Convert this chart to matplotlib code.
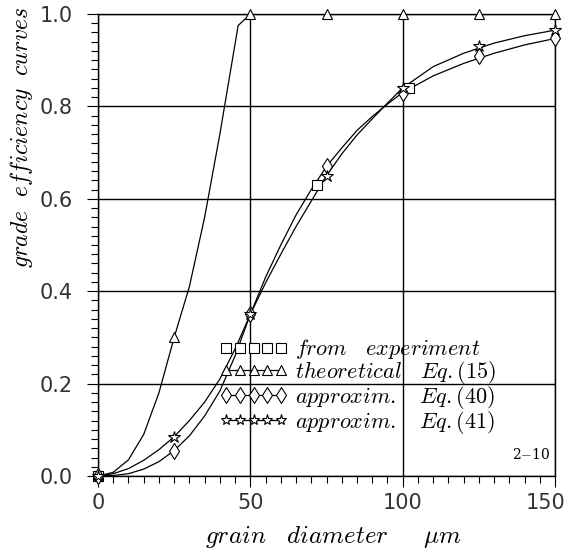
"""Grade efficiency curves: experiment vs theory vs two approximations."""

import matplotlib
matplotlib.use("Agg")
import matplotlib.pyplot as plt
import matplotlib.transforms as mtransforms
from matplotlib.lines import Line2D
from matplotlib.ticker import MultipleLocator, FormatStrFormatter

plt.rcParams["mathtext.fontset"] = "cm"

# ---- marker data (grain diameter in um, grade efficiency) ----
exp_x = [0, 72, 102]
exp_y = [0.0, 0.63, 0.84]

theo_x = [0, 25, 50, 75, 100, 125, 150]
theo_y = [0.0, 0.30, 1.0, 1.0, 1.0, 1.0, 1.0]

eq40_x = [0, 25, 50, 75, 100, 125, 150]
eq40_y = [0.0, 0.055, 0.35, 0.67, 0.83, 0.91, 0.947]

eq41_x = [0, 25, 50, 75, 100, 125, 150]
eq41_y = [0.0, 0.085, 0.35, 0.65, 0.84, 0.93, 0.965]

# ---- curves ----
theo_curve_x = [0, 5, 10, 15, 20, 25, 30, 35, 40, 46, 50, 150]
theo_curve_y = [0.0, 0.008, 0.035, 0.09, 0.18, 0.30, 0.41, 0.56, 0.74, 0.975, 1.0, 1.0]

approx_curve_x = [0, 5, 10, 15, 20, 25, 30, 35, 40, 45, 50, 55, 60, 65, 70,
                  75, 80, 85, 90, 95, 100, 110, 120, 130, 140, 150]
eq40_curve_y = [0.0, 0.001, 0.005, 0.015, 0.031, 0.055, 0.087, 0.13, 0.184, 0.26,
                0.35, 0.43, 0.50, 0.565, 0.62, 0.67, 0.71, 0.748, 0.778, 0.805,
                0.83, 0.866, 0.893, 0.915, 0.933, 0.947]
eq41_curve_y = [0.0, 0.005, 0.016, 0.034, 0.057, 0.085, 0.12, 0.16, 0.21, 0.275,
                0.35, 0.418, 0.48, 0.54, 0.595, 0.65, 0.697, 0.738, 0.773, 0.807,
                0.84, 0.886, 0.915, 0.937, 0.953, 0.965]

legend_labels = [r"$\mathit{from\ \ \ experiment}$",
                 r"$\mathit{theoretical\ \ \ Eq.(15)}$",
                 r"$\mathit{approxim.\ \ \ Eq.(40)}$",
                 r"$\mathit{approxim.\ \ \ Eq.(41)}$"]

fig = plt.figure(figsize=(5.73, 5.54), dpi=100)
ax = fig.add_axes([98 / 573, 1 - 476 / 554, 457 / 573, 462 / 554])

lw = 0.9
mk = dict(mfc="white", mec="black", mew=0.8, linestyle="none", zorder=4, clip_on=False)

ax.plot(theo_curve_x, theo_curve_y, color="black", lw=lw, zorder=3)
ax.plot(approx_curve_x, eq40_curve_y, color="black", lw=lw, zorder=3)
ax.plot(approx_curve_x, eq41_curve_y, color="black", lw=lw, zorder=3)

ax.plot(exp_x, exp_y, marker="s", ms=7, **mk)
ax.plot(theo_x, theo_y, marker="^", ms=7, **mk)
ax.plot(eq40_x, eq40_y, marker="d", ms=8, **mk)
ax.plot(eq41_x, eq41_y, marker="*", ms=9, **mk)

# ---- axes ----
ax.set_xlim(0, 150)
ax.set_ylim(0, 1.0)
ax.xaxis.set_major_locator(MultipleLocator(50))
ax.xaxis.set_minor_locator(MultipleLocator(5))
ax.yaxis.set_major_locator(MultipleLocator(0.2))
ax.yaxis.set_minor_locator(MultipleLocator(0.02))
ax.yaxis.set_major_formatter(FormatStrFormatter("%.1f"))
ax.tick_params(which="major", direction="out", length=8, width=0.8,
               labelsize=15, labelcolor="#333333")
ax.tick_params(axis="x", which="major", pad=4)
ax.tick_params(axis="y", which="major", pad=10)
ax.tick_params(which="minor", direction="out", length=5, width=0.8)
ax.grid(True, which="major", color="black", lw=1.0)
for s in ax.spines.values():
    s.set_linewidth(1.0)

# last x label sits a bit left, as in the original
ax.set_xticks([0, 50, 100, 150])
last = ax.get_xticklabels()[-1]
last.set_transform(last.get_transform()
                   + mtransforms.ScaledTranslation(-9 / 100, 0, fig.dpi_scale_trans))

# ---- legend: 5 markers per entry ----
hk = dict(mfc="white", mec="black", mew=0.8)
handles = [
    Line2D([], [], marker="s", ms=7, linestyle="none", **hk),
    Line2D([], [], marker="^", ms=7, color="black", lw=lw, **hk),
    Line2D([], [], marker="d", ms=8, color="black", lw=lw, **hk),
    Line2D([], [], marker="*", ms=8, color="black", lw=lw, **hk),
]
leg = ax.legend(handles, legend_labels, numpoints=5, handlelength=3.1,
                handletextpad=0.3, labelspacing=-0.1, fontsize=16,
                loc="upper left", bbox_to_anchor=(0.265, 0.30),
                frameon=False, borderaxespad=0, borderpad=0)
leg.set_zorder(5)

ax.text(0.99, 0.03, "2$-$10", transform=ax.transAxes, ha="right", va="bottom",
        fontsize=10, family="DejaVu Serif")

fig.text(22 / 573, 1 - 137 / 554, r"$\mathit{grade\ \ efficiency\ \ curves}$",
         rotation=90, ha="center", va="center", fontsize=17)
fig.text(334 / 573, 1 - 537 / 554, r"$\mathit{grain\ \ \ diameter\ \ \ \ \ \mu m}$",
         ha="center", va="center", fontsize=18)

fig.savefig("out.png", dpi=100)
